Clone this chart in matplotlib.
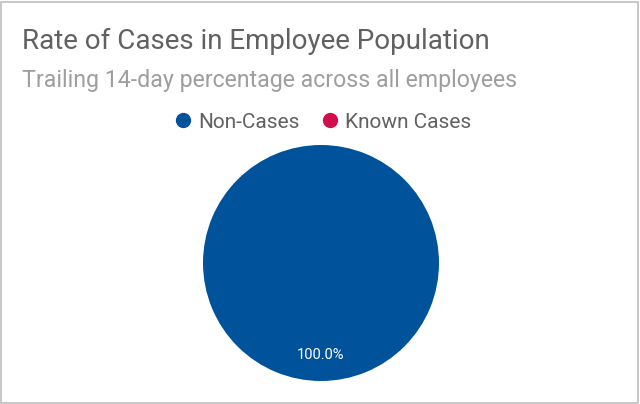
import matplotlib.pyplot as plt
from matplotlib.patches import Rectangle
from matplotlib.lines import Line2D

plt.rcParams['font.family'] = ['Roboto', 'DejaVu Sans']

labels = ['Non-Cases', 'Known Cases']
values = [100.0, 0.0]
colors = ['#00539B', '#D0104C']

fig = plt.figure(figsize=(6.4, 4.04), dpi=100)

# light grey frame round the card
fig.patches.append(Rectangle((1 / 640, 1 / 404), 637 / 640, 401 / 404,
                             transform=fig.transFigure, fill=False,
                             edgecolor='#bdbdbd', linewidth=1.2))

fig.text(22 / 640, 1 - 49 / 404, 'Rate of Cases in Employee Population',
         fontsize=20, color='#616161')
fig.text(22 / 640, 1 - 87 / 404, 'Trailing 14-day percentage across all employees',
         fontsize=16.7, color='#9e9e9e')

ax = fig.add_axes([203 / 640, 23 / 404, 236 / 640, 236 / 404])
ax.pie(values, colors=colors, startangle=90,
       autopct=lambda p: f'{p:.1f}%' if p > 0 else '',
       pctdistance=0.78,
       textprops={'color': 'white', 'fontsize': 10.5},
       wedgeprops={'linewidth': 0})
ax.set_xlim(-1, 1)
ax.set_ylim(-1, 1)
ax.set_aspect('equal')

handles = [Line2D([], [], marker='o', linestyle='', markersize=10,
                  markerfacecolor=c, markeredgecolor=c) for c in colors]
fig.legend(handles, labels, loc='center', bbox_to_anchor=(322 / 640, 1 - 122 / 404),
           ncol=2, frameon=False, fontsize=15, labelcolor='#616161',
           handletextpad=0.2, columnspacing=1.0, handlelength=1.0)

fig.savefig('out.png', dpi=100)
